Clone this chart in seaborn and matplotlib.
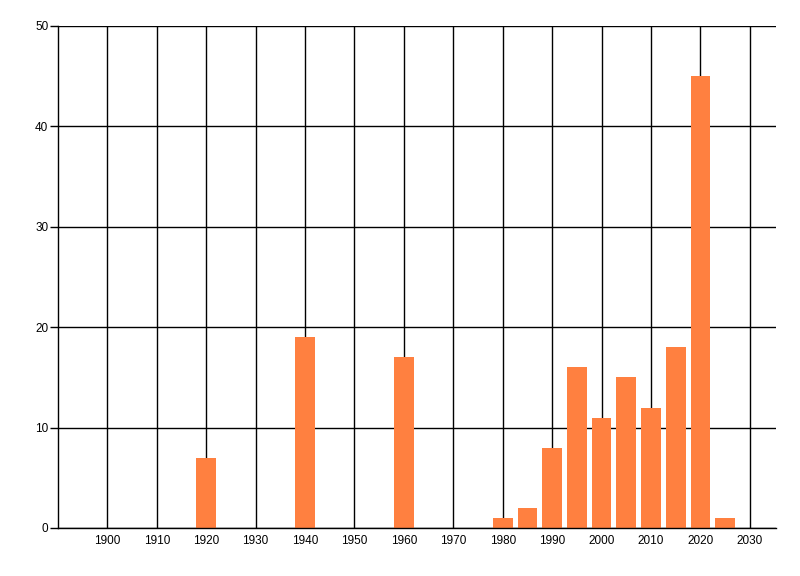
import pandas as pd
import seaborn as sns
import matplotlib.pyplot as plt

years = [1920, 1940, 1960, 1980, 1985, 1990, 1995, 2000, 2005, 2010, 2015, 2020, 2025]
counts = [7, 19, 17, 1, 2, 8, 16, 11, 15, 12, 18, 45, 1]
x_ticks = list(range(1900, 2031, 10))
y_ticks = [0, 10, 20, 30, 40, 50]

df = pd.DataFrame({"Year": years, "Count": counts})

sns.set_theme(style="white")
plt.rcParams['font.family'] = ['Liberation Sans', 'DejaVu Sans']

fig = plt.figure(figsize=(8, 5.76), dpi=100)
ax = fig.add_axes([58 / 800, 48 / 576, 718 / 800, 502 / 576])

sns.barplot(data=df, x="Year", y="Count", native_scale=True, width=0.8,
            color="#FF8040", saturation=1, linewidth=0, ax=ax, zorder=2)

ax.set_xlim(1890, 2035.3)
ax.set_ylim(0, 50)
ax.set_xticks(x_ticks)
ax.set_yticks(y_ticks)
ax.set_xticklabels([str(t) for t in x_ticks])
ax.set_xlabel("")
ax.set_ylabel("")

ax.set_axisbelow(True)
ax.grid(True, color="black", linewidth=1)
for side in ["top", "right"]:
    ax.spines[side].set_visible(False)
for side in ["left", "bottom"]:
    ax.spines[side].set_color("black")
    ax.spines[side].set_linewidth(1)

ax.tick_params(axis="y", left=True, length=6, width=1, color="black",
               labelsize=8.5, pad=1, labelcolor="black")
ax.tick_params(axis="x", bottom=False, length=0, labelsize=8.5, pad=5,
               labelcolor="black")

plt.savefig("out.png", dpi=100)
